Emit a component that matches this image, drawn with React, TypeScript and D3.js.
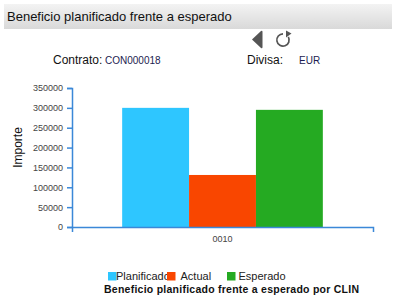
import React, { useEffect, useRef } from "react";
import { select, scaleBand, scaleLinear, axisLeft, axisBottom, arc, format } from "d3";

const categories = ["0010"];
const seriesKeys = ["Planificado", "Actual", "Esperado"];
const planificado = [300000];
const actual = [131000];
const esperado = [295000];
const yTicks = [0, 50000, 100000, 150000, 200000, 250000, 300000, 350000];
const colors: Record<string, string> = {
  Planificado: "#2ec6ff",
  Actual: "#f94600",
  Esperado: "#25aa22",
};
const AXIS = "#3b88d8";
const FONT = "'Liberation Sans', Arial, sans-serif";

const App = () => {
  const xAxisRef = useRef<SVGGElement>(null);
  const yAxisRef = useRef<SVGGElement>(null);

  const width = 393;
  const height = 302;
  const plot = { left: 72, right: 373, top: 88, bottom: 227 };

  const yScale = scaleLinear().domain([0, 350000]).range([plot.bottom, plot.top]);
  const x0 = scaleBand().domain(categories).range([plot.left, plot.right]).paddingInner(0.2).paddingOuter(0.2);
  const x1 = scaleBand().domain(seriesKeys).range([0, x0.bandwidth()]).padding(0);

  const rows = categories.map((c, i) => ({
    name: c,
    Planificado: planificado[i],
    Actual: actual[i],
    Esperado: esperado[i],
  }));

  useEffect(() => {
    const gy = select(yAxisRef.current!);
    gy.call(axisLeft(yScale).tickValues(yTicks).tickFormat(format("d") as any).tickSize(5).tickPadding(4) as any);
    gy.select(".domain").attr("stroke", AXIS).attr("stroke-width", 1.5);
    gy.selectAll(".tick line").attr("stroke", AXIS).attr("stroke-width", 1.5);
    gy.selectAll(".tick text").attr("fill", "#444").style("font-size", "9px").style("font-family", FONT);

    const gx = select(xAxisRef.current!);
    gx.call(axisBottom(x0).tickSizeInner(0).tickSizeOuter(5).tickPadding(9) as any);
    gx.select(".domain").attr("stroke", AXIS).attr("stroke-width", 1.5);
    gx.selectAll(".tick text").attr("fill", "#444").style("font-size", "9px").style("font-family", FONT);
  }, []);

  const refreshArc = arc()({
    innerRadius: 5.3,
    outerRadius: 7,
    startAngle: Math.PI / 3,
    endAngle: 2 * Math.PI,
  } as any) as string;

  return (
    <svg
      width={width}
      height={height}
      style={{ position: "absolute", left: 0, top: 0, fontFamily: FONT }}
    >
      <defs>
        <linearGradient id="hdr" x1="0" y1="0" x2="0" y2="1">
          <stop offset="0%" stopColor="#f3f3f3" />
          <stop offset="100%" stopColor="#d9d9d9" />
        </linearGradient>
      </defs>
      <rect x={4} y={4} width={388} height={25} fill="url(#hdr)" />
      <text x={7} y={21} fontSize={13} fill="#111">
        Beneficio planificado frente a esperado
      </text>

      {/* back / refresh icons */}
      <path d="M252,39.5 L261,31 Q262.5,30 262.5,32 L262.5,47 Q262.5,49 261,48 Z" fill="#555" />
      <g transform="translate(283,40)">
        <path d={refreshArc} fill="#555" />
        <path d="M3,-9.5 L8.5,-6.5 L3,-2.5 Z" fill="#555" />
      </g>

      <text x={53} y={64} fontSize={12} fill="#111">Contrato:</text>
      <text x={105} y={64} fontSize={10} fill="#1c1c50">CON000018</text>
      <text x={247} y={64} fontSize={12} fill="#111">Divisa:</text>
      <text x={299} y={64} fontSize={10} fill="#1c1c50">EUR</text>

      <text
        transform={`translate(22,147.5) rotate(-90)`}
        textAnchor="middle"
        fontSize={12}
        fill="#111"
      >
        Importe
      </text>

      {rows.map((d) => (
        <g key={d.name} transform={`translate(${x0(d.name)},0)`}>
          {seriesKeys.map((k) => (
            <rect
              key={k}
              x={x1(k)}
              y={yScale((d as any)[k])}
              width={x1.bandwidth()}
              height={yScale(0) - yScale((d as any)[k])}
              fill={colors[k]}
            />
          ))}
        </g>
      ))}

      <g ref={yAxisRef} transform={`translate(${plot.left},0)`} />
      <g ref={xAxisRef} transform={`translate(0,${plot.bottom})`} />

      {/* legend */}
      <rect x={108} y={272} width={8.5} height={8.5} fill={colors.Planificado} />
      <text x={116} y={280} fontSize={11} fill="#222">Planificado</text>
      <rect x={167} y={272} width={8.5} height={8.5} fill={colors.Actual} />
      <text x={180.5} y={280} fontSize={11} fill="#222">Actual</text>
      <rect x={227} y={272} width={8.5} height={8.5} fill={colors.Esperado} />
      <text x={238.5} y={280} fontSize={11} fill="#222">Esperado</text>

      <text
        x={104}
        y={293}
        fontSize={10.5}
        fontWeight="bold"
        fill="#111"
        textLength={255}
        lengthAdjust="spacing"
      >
        Beneficio planificado frente a esperado por CLIN
      </text>
    </svg>
  );
};

export default App;
